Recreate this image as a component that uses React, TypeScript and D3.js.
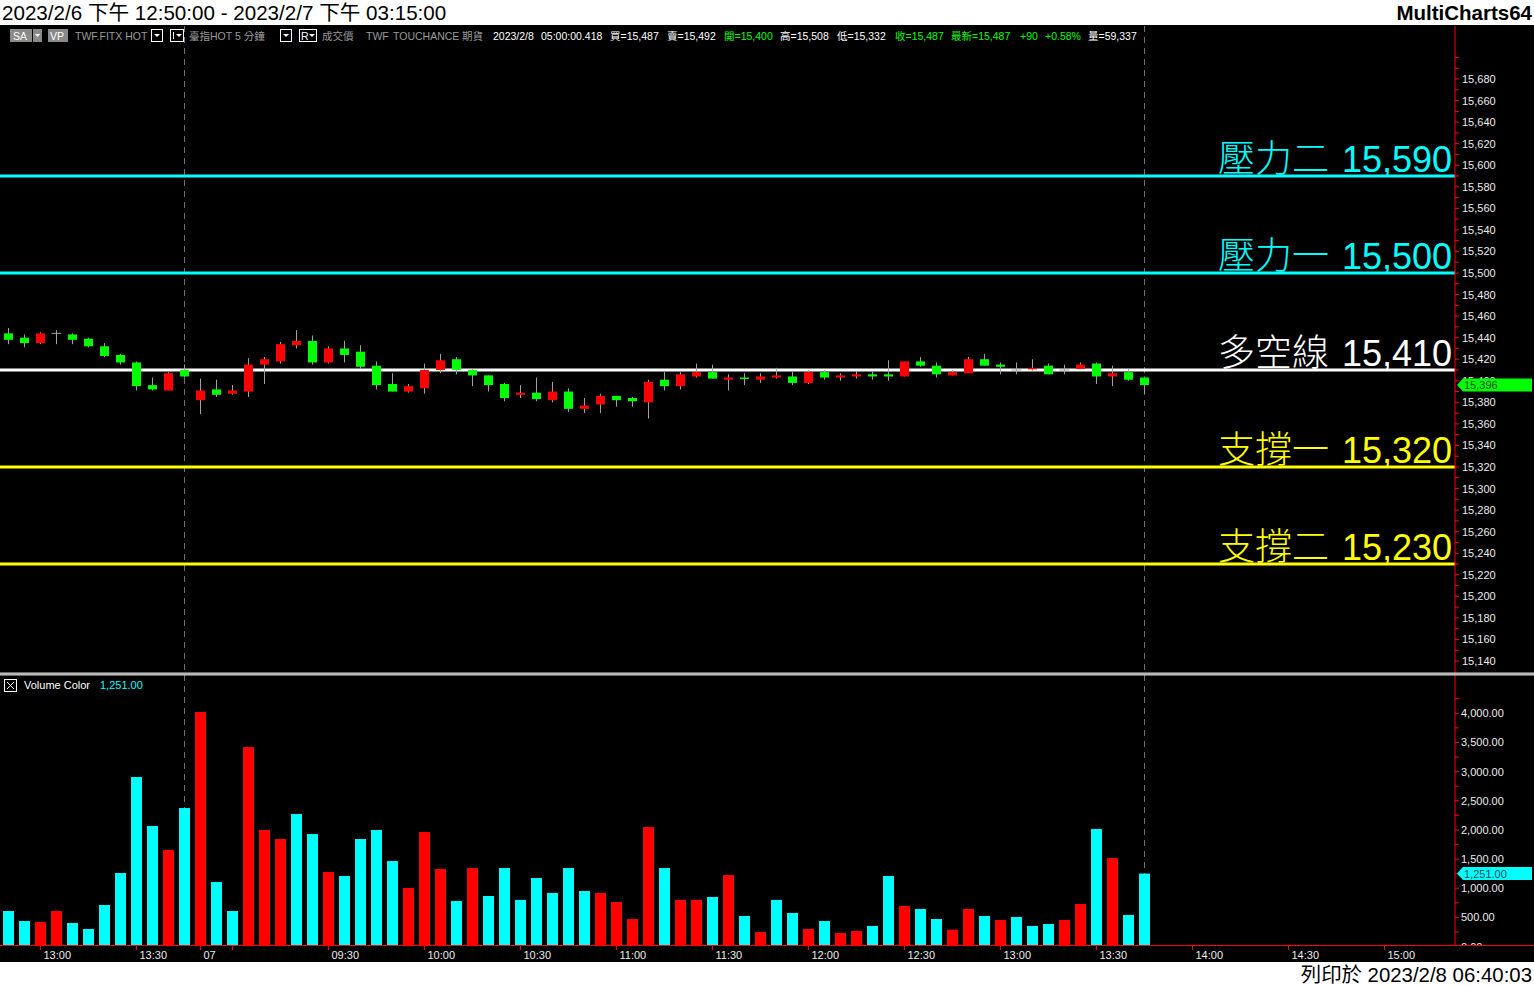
import React from 'react';
import * as d3 from 'd3';

const W = 1534;
const H = 986;

// 5 分鐘 K 棒時段 (2/6 日盤尾段 + 2/7 日盤，延伸到 15:15 的空白時段)
const sessions: [string, string][] = [
  ['2023-02-06T12:50', '2023-02-06T13:45'],
  ['2023-02-07T08:50', '2023-02-07T15:15'],
];
const sessionEnds = ['02/06 13:45', '02/07 13:45'];

// OHLC
const opens = [
  15444, 15440, 15435, 15444, 15443, 15439, 15432, 15424, 15417, 15396, 15391, 15410,
  15382, 15392, 15388, 15390, 15415, 15418, 15433, 15437, 15417, 15430, 15427, 15414,
  15397, 15390, 15393, 15410, 15420, 15410, 15405, 15397, 15387, 15389, 15382, 15390,
  15374, 15378, 15386, 15384, 15380, 15401, 15395, 15404, 15408, 15401, 15403, 15401,
  15403, 15404, 15398, 15408, 15403, 15404, 15406, 15406, 15404, 15418, 15414, 15405,
  15407, 15420, 15415, 15410, 15411, 15414, 15410, 15411, 15416, 15404, 15408, 15403,
];
const highs = [
  15449, 15443, 15445, 15447, 15444, 15440, 15435, 15425, 15418, 15403, 15408, 15415,
  15402, 15401, 15396, 15421, 15422, 15436, 15447, 15442, 15432, 15437, 15433, 15418,
  15407, 15397, 15416, 15425, 15422, 15411, 15405, 15398, 15396, 15403, 15399, 15393,
  15384, 15388, 15386, 15385, 15401, 15408, 15408, 15416, 15415, 15406, 15407, 15407,
  15412, 15408, 15410, 15410, 15407, 15409, 15409, 15419, 15418, 15422, 15417, 15410,
  15422, 15425, 15417, 15417, 15420, 15416, 15415, 15417, 15417, 15414, 15411, 15404,
];
const lows = [
  15434, 15431, 15434, 15434, 15434, 15431, 15422, 15415, 15391, 15391, 15391, 15403,
  15369, 15385, 15387, 15385, 15397, 15416, 15430, 15415, 15416, 15417, 15411, 15392,
  15390, 15389, 15388, 15407, 15406, 15395, 15390, 15381, 15384, 15381, 15380, 15371,
  15370, 15370, 15376, 15376, 15365, 15391, 15392, 15403, 15402, 15391, 15396, 15398,
  15402, 15396, 15397, 15401, 15400, 15402, 15401, 15400, 15404, 15413, 15403, 15405,
  15407, 15414, 15406, 15406, 15409, 15406, 15406, 15411, 15397, 15395, 15400, 15388,
];
const closes = [
  15438, 15435, 15444, 15444, 15438, 15432, 15423, 15417, 15395, 15392, 15407, 15404,
  15391, 15387, 15391, 15415, 15420, 15434, 15437, 15417, 15430, 15424, 15413, 15396,
  15390, 15395, 15410, 15419, 15410, 15405, 15396, 15384, 15389, 15383, 15390, 15374,
  15377, 15386, 15382, 15381, 15399, 15395, 15406, 15408, 15402, 15403, 15402, 15404,
  15405, 15398, 15408, 15403, 15405, 15406, 15404, 15404, 15418, 15414, 15406, 15408,
  15420, 15414, 15413, 15410, 15412, 15406, 15410, 15415, 15404, 15407, 15401, 15396,
];

// 成交量 與 Volume Color (u = 紅, d = 青)
const volumes = [
  609, 437, 420, 609, 403, 300, 712, 1261, 2907, 2067, 1655, 2375,
  4022, 1106, 609, 3421, 1998, 1844, 2272, 1929, 1278, 1209, 1844, 1998,
  1466, 1003, 1964, 1329, 780, 1346, 866, 1346, 799, 1175, 918, 1346,
  952, 918, 763, 472, 2049, 1346, 799, 799, 849, 1226, 523, 249,
  799, 575, 300, 437, 232, 266, 352, 1209, 695, 643, 472, 288,
  643, 523, 454, 506, 352, 386, 454, 729, 2015, 1518, 540, 1251,
];
const volDirs = [
  'd', 'd', 'u', 'u', 'd', 'd', 'd', 'd', 'd', 'd', 'u', 'd',
  'u', 'd', 'd', 'u', 'u', 'u', 'd', 'd', 'u', 'd', 'd', 'd',
  'd', 'u', 'u', 'u', 'd', 'u', 'd', 'd', 'd', 'd', 'd', 'd',
  'd', 'u', 'u', 'u', 'u', 'd', 'u', 'u', 'd', 'u', 'd', 'u',
  'd', 'd', 'u', 'd', 'u', 'u', 'd', 'd', 'u', 'd', 'd', 'u',
  'u', 'd', 'u', 'd', 'd', 'd', 'u', 'u', 'd', 'u', 'd', 'd',
];

// 關鍵價位
const levelNames = ['壓力二', '壓力一', '多空線', '支撐一', '支撐二'];
const levelValues = [15590, 15500, 15410, 15320, 15230];

// X 軸刻度 [時段, 標籤]
const xTicks: [string, string][] = [
  ['02/06 13:00', '13:00'], ['02/06 13:30', '13:30'], ['02/07 08:50', '07'], ['02/07 09:00', ''],
  ['02/07 09:30', '09:30'], ['02/07 10:00', '10:00'], ['02/07 10:30', '10:30'], ['02/07 11:00', '11:00'],
  ['02/07 11:30', '11:30'], ['02/07 12:00', '12:00'], ['02/07 12:30', '12:30'], ['02/07 13:00', '13:00'],
  ['02/07 13:30', '13:30'], ['02/07 14:00', '14:00'], ['02/07 14:30', '14:30'], ['02/07 15:00', '15:00'],
];

const priceTicks = d3.range(15140, 15681, 20);
const volTicks = d3.range(500, 4001, 500);

const parse = d3.timeParse('%Y-%m-%dT%H:%M');
const fmtKey = d3.timeFormat('%m/%d %H:%M');
const slotKeys = sessions.flatMap(([a, b]) =>
  d3.timeMinute.every(5)!.range(parse(a)!, d3.timeMinute.offset(parse(b)!, 1)).map(fmtKey)
);

const AXIS_X = 1455;
const SANS = '"Liberation Sans", Arial, "Noto Sans CJK TC", sans-serif';
const CJK = '"Noto Sans CJK TC", "Liberation Sans", sans-serif';

const levelColor = (v: number) => (v > 15410 ? '#00ffff' : v < 15410 ? '#ffff00' : '#ffffff');

export default function App() {
  const x = d3.scaleBand<string>().domain(slotKeys).range([0.5, 0.5 + slotKeys.length * 16]);
  const cx = (i: number) => x(slotKeys[i])! + x.bandwidth() / 2;
  const y = d3.scaleLinear().domain([15140, 15680]).range([661, 79]);
  const yv = d3.scaleLinear().domain([0, 4000]).range([946.5, 713.3]);
  const fmtP = d3.format(',');
  const fmtV = d3.format(',.2f');
  const lastClose = closes[closes.length - 1];
  const lastVol = volumes[volumes.length - 1];

  const toolbarTokens: [number, string, string][] = [
    [75, 'TWF.FITX HOT', '#9a9a9a'],
    [189, '臺指HOT  5 分鐘', '#9a9a9a'],
    [322, '成交價', '#9a9a9a'],
    [366, 'TWF', '#9a9a9a'],
    [393, 'TOUCHANCE', '#9a9a9a'],
    [462, '期貨', '#9a9a9a'],
    [493, '2023/2/8', '#ffffff'],
    [541, '05:00:00.418', '#ffffff'],
    [610, '買=15,487', '#ffffff'],
    [667, '賣=15,492', '#ffffff'],
    [724, '開=15,400', '#00ff00'],
    [780, '高=15,508', '#ffffff'],
    [837, '低=15,332', '#ffffff'],
    [895, '收=15,487', '#00ff00'],
    [951, '最新=15,487', '#00ff00'],
    [1020, '+90', '#00ff00'],
    [1045, '+0.58%', '#00ff00'],
    [1088, '量=59,337', '#ffffff'],
  ];

  return (
    <svg width={W} height={H} style={{ position: 'absolute', left: 0, top: 0, display: 'block' }}>
      <rect x={0} y={0} width={W} height={H} fill="#ffffff" />
      <rect x={0} y={25} width={W} height={937} fill="#000000" />

      {/* header / footer */}
      <text x={2} y={20} fontSize={20.6} fontFamily={SANS} fill="#000">
        2023/2/6 下午 12:50:00 - 2023/2/7 下午 03:15:00
      </text>
      <text x={1532} y={20} fontSize={20.5} fontWeight="bold" fontFamily={SANS} fill="#000" textAnchor="end">
        MultiCharts64
      </text>
      <text x={1532} y={982} fontSize={20.4} fontFamily={SANS} fill="#000" textAnchor="end">
        列印於 2023/2/8 06:40:03
      </text>

      {/* toolbar */}
      <g fontFamily={SANS} fontSize={10.5}>
        <rect x={10} y={29} width={22} height={13} fill="#8a8a8a" />
        <text x={13} y={40} fill="#fff">SA</text>
        <rect x={33} y={29} width={9} height={13} fill="#8a8a8a" />
        <path d="M35,34 L40,34 L37.5,37 Z" fill="#fff" />
        <rect x={48} y={29} width={20} height={13} fill="#8a8a8a" />
        <text x={50} y={40} fill="#fff">VP</text>
        <rect x={151.5} y={29.5} width={11} height={12} fill="none" stroke="#fff" />
        <path d="M154,34 L160,34 L157,37 Z" fill="#fff" />
        <rect x={170.5} y={29.5} width={13} height={12} fill="none" stroke="#fff" />
        <line x1={173.5} x2={173.5} y1={32} y2={39} stroke="#fff" />
        <path d="M176,34 L182,34 L179,37 Z" fill="#fff" />
        <rect x={280.5} y={29.5} width={11} height={12} fill="none" stroke="#fff" />
        <path d="M283,34 L289,34 L286,37 Z" fill="#fff" />
        <rect x={299.5} y={29.5} width={17} height={12} fill="none" stroke="#fff" />
        <text x={301} y={40} fill="#fff">R</text>
        <path d="M309,34 L315,34 L312,37 Z" fill="#fff" />
        {toolbarTokens.map(([tx, t, c]) => (
          <text key={tx} x={tx} y={40} fill={c}>{t}</text>
        ))}
      </g>

      {/* session break dashed lines */}
      {sessionEnds.map((k) => (
        <line key={k} x1={x(k)! + 8} x2={x(k)! + 8} y1={26} y2={945} stroke="#707070" strokeDasharray="6,5" />
      ))}

      {/* level lines */}
      {levelValues.map((v, i) => (
        <g key={v}>
          <line x1={0} x2={AXIS_X} y1={y(v)} y2={y(v)} stroke={levelColor(v)} strokeWidth={3} />
          <text x={1329} y={y(v) - 4} fontSize={37} fontWeight={300} fontFamily={CJK} fill={levelColor(v)} textAnchor="end">
            {levelNames[i]}
          </text>
          <text x={1452} y={y(v) - 4} fontSize={36} fontFamily={SANS} fill={levelColor(v)} textAnchor="end">
            {fmtP(v)}
          </text>
        </g>
      ))}

      {/* candles */}
      {opens.map((o, i) => {
        const c = closes[i];
        const xc = cx(i);
        const col = c > o ? '#ff0000' : c < o ? '#00ff00' : '#a0a0a0';
        const top = y(Math.max(o, c));
        const h = Math.abs(y(o) - y(c));
        return (
          <g key={i}>
            <line x1={xc} x2={xc} y1={y(highs[i])} y2={y(lows[i])} stroke="#a0a0a0" strokeWidth={1} />
            {c === o ? (
              <line x1={xc - 5} x2={xc + 5} y1={top} y2={top} stroke="#a0a0a0" strokeWidth={1} />
            ) : (
              <rect x={xc - 4.5} y={top} width={9} height={Math.max(1.5, h)} fill={col} />
            )}
          </g>
        );
      })}

      {/* price axis */}
      <line x1={AXIS_X} x2={AXIS_X} y1={26} y2={946} stroke="#ff0000" />
      {d3.range(15140, 15701, 10).map((p) => (
        <line key={p} x1={AXIS_X} x2={AXIS_X + 4} y1={y(p)} y2={y(p)} stroke="#ff0000" />
      ))}
      <g fontFamily={SANS} fontSize={11} fill="#ececec">
        {priceTicks.map((p) => (
          <text key={p} x={1462} y={y(p)} dy="0.36em">{fmtP(p)}</text>
        ))}
      </g>
      <path
        d={`M${AXIS_X + 2},${y(lastClose)} L${AXIS_X + 8},${y(lastClose) - 6.5} L1532,${y(lastClose) - 6.5} L1532,${y(lastClose) + 6.5} L${AXIS_X + 8},${y(lastClose) + 6.5} Z`}
        fill="#00ff00"
      />
      <text x={1464} y={y(lastClose)} dy="0.36em" fontFamily={SANS} fontSize={11} fill="#1a4a1a">
        {fmtP(lastClose)}
      </text>

      {/* pane separator */}
      <rect x={0} y={672.5} width={W} height={3} fill="#d0d0d0" />
      <line x1={0} x2={W} y1={674} y2={674} stroke="#9a9a9a" strokeWidth={0.8} />

      {/* volume pane header */}
      <rect x={4.5} y={679.5} width={12} height={12} fill="none" stroke="#fff" />
      <path d="M7,682 L14,689 M14,682 L7,689" stroke="#fff" />
      <text x={24} y={689} fontFamily={SANS} fontSize={11} fill="#fff">Volume Color</text>
      <text x={100} y={689} fontFamily={SANS} fontSize={11} fill="#00ffff">{fmtV(lastVol)}</text>

      {/* volume bars */}
      {volumes.map((v, i) => (
        <rect key={i} x={cx(i) - 5.5} y={yv(v)} width={11} height={yv(0) - yv(v)}
          fill={volDirs[i] === 'u' ? '#ff0000' : '#00ffff'} />
      ))}

      {/* volume axis */}
      {d3.range(250, 4251, 250).map((v) => (
        <line key={v} x1={AXIS_X} x2={AXIS_X + 4} y1={yv(v)} y2={yv(v)} stroke="#ff0000" />
      ))}
      <g fontFamily={SANS} fontSize={11} fill="#ececec">
        {volTicks.map((v) => (
          <text key={v} x={1461} y={yv(v)} dy="0.36em">{fmtV(v)}</text>
        ))}
      </g>
      <path
        d={`M${AXIS_X + 2},${yv(lastVol)} L${AXIS_X + 8},${yv(lastVol) - 6.5} L1532,${yv(lastVol) - 6.5} L1532,${yv(lastVol) + 6.5} L${AXIS_X + 8},${yv(lastVol) + 6.5} Z`}
        fill="#00ffff"
      />
      <text x={1464} y={yv(lastVol)} dy="0.36em" fontFamily={SANS} fontSize={11} fill="#1a4450">
        {fmtV(lastVol)}
      </text>

      {/* time axis */}
      <rect x={0} y={946} width={W} height={16} fill="#000" />
      <text x={1461} y={951} fontFamily={SANS} fontSize={11} fill="#ececec">0.00</text>
      <rect x={1456} y={946} width={78} height={16} fill="#000" />
      <line x1={0} x2={W} y1={945.5} y2={945.5} stroke="#ff0000" />
      {xTicks.map(([k, lab]) => {
        const tx = x(k)! + 8;
        return (
          <g key={k}>
            <line x1={tx} x2={tx} y1={946} y2={950} stroke="#ff0000" />
            {lab && (
              <text x={tx + 3} y={959} fontFamily={SANS} fontSize={11} fill="#ececec">{lab}</text>
            )}
          </g>
        );
      })}
    </svg>
  );
}
